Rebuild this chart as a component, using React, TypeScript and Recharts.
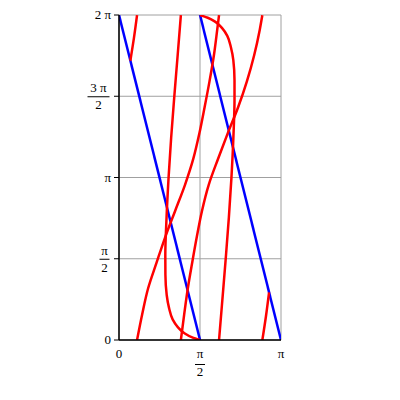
import { CartesianGrid, Line, LineChart, XAxis, YAxis } from 'recharts';

const PI = Math.PI;

// axis ticks (radians) and how they are printed
const X_TICKS = [0, PI / 2, PI];
const X_LABELS = ['0', 'π/2', 'π'];
const Y_TICKS = [0, PI / 2, PI, (3 * PI) / 2, 2 * PI];
const Y_LABELS = ['0', 'π/2', 'π', '3 π/2', '2 π'];

// blue: two straight branches, [x, y]
const BLUE_A = [[0, 6.283], [1.571, 0]];
const BLUE_B = [[1.571, 6.283], [3.141, 0]];

// red branches, each ordered by y
const RED_A = [[0.22, 5.4], [0.29, 5.84], [0.35, 6.28]];
const RED_B = [
  [0.35, 0], [0.45, 0.5], [0.565, 1.0], [0.73, 1.5], [0.9, 2.0], [1.09, 2.5],
  [1.28, 3.0], [1.44, 3.5], [1.56, 4.0], [1.66, 4.5], [1.755, 5.0], [1.84, 5.5],
  [1.905, 6.0], [1.94, 6.28],
];
const RED_C = [
  [1.57, 0], [1.42, 0.05], [1.27, 0.13], [1.14, 0.25], [1.04, 0.4], [0.97, 0.62],
  [0.925, 0.87], [0.9, 1.26], [0.898, 1.64], [0.92, 2.32], [0.962, 3.15], [1.012, 3.92],
  [1.075, 4.74], [1.138, 5.51], [1.2, 6.28],
];
const RED_D = [
  [1.94, 0], [2.004, 0.77], [2.067, 1.54], [2.13, 2.36], [2.18, 3.13], [2.22, 3.96],
  [2.24, 4.64], [2.24, 5.02], [2.217, 5.41], [2.17, 5.66], [2.1, 5.88], [2.0, 6.03],
  [1.87, 6.15], [1.72, 6.23], [1.57, 6.28],
];
const RED_E = [
  [1.2, 0], [1.265, 0.5], [1.335, 1.0], [1.42, 1.5], [1.51, 2.0], [1.61, 2.5],
  [1.74, 3.0], [1.92, 3.5], [2.11, 4.0], [2.31, 4.5], [2.48, 5.0], [2.62, 5.5],
  [2.73, 6.0], [2.78, 6.28],
];
const RED_F = [[2.78, 0], [2.85, 0.46], [2.91, 0.92]];

const toPoints = (pts: number[][]) => pts.map(([x, y]) => ({ x, y }));

const BLUE = [BLUE_A, BLUE_B].map(toPoints);
const RED = [RED_A, RED_B, RED_C, RED_D, RED_E, RED_F].map(toPoints);

const FONT = "'Liberation Serif', 'Times New Roman', serif";
const textStyle = { fontFamily: FONT, fontSize: 13, fill: '#000' };

function labelFor(value: number, ticks: number[], labels: string[]) {
  const i = ticks.findIndex((t) => Math.abs(t - value) < 1e-6);
  return i >= 0 ? labels[i] : String(value);
}

function YTick({ x, y, payload }: any) {
  const label = labelFor(payload.value, Y_TICKS, Y_LABELS);
  if (label.includes('/')) {
    const [num, den] = label.split('/');
    const w = 4 + num.length * 6;
    const cx = x - 2.5 - w / 2;
    return (
      <g>
        <text x={cx} y={y - 4} textAnchor="middle" style={textStyle}>{num}</text>
        <line x1={cx - w / 2} x2={cx + w / 2} y1={y + 0.5} y2={y + 0.5} stroke="#000" />
        <text x={cx} y={y + 13} textAnchor="middle" style={textStyle}>{den}</text>
      </g>
    );
  }
  return (
    <text x={x - 1} y={y + 4} textAnchor="end" style={textStyle}>
      {label}
    </text>
  );
}

function XTick({ x, y, payload }: any) {
  const label = labelFor(payload.value, X_TICKS, X_LABELS);
  if (label.includes('/')) {
    const [num, den] = label.split('/');
    const w = 4 + num.length * 6;
    return (
      <g>
        <text x={x} y={y + 10} textAnchor="middle" style={textStyle}>{num}</text>
        <line x1={x - w / 2} x2={x + w / 2} y1={y + 16.5} y2={y + 16.5} stroke="#000" />
        <text x={x} y={y + 28} textAnchor="middle" style={textStyle}>{den}</text>
      </g>
    );
  }
  return (
    <text x={x} y={y + 9.5} textAnchor="middle" style={textStyle}>
      {label}
    </text>
  );
}

export default function App() {
  return (
    <div style={{ position: 'absolute', left: 0, top: 0, width: 400, height: 400, background: '#fff' }}>
      <LineChart width={400} height={400} margin={{ top: 15, right: 119, bottom: 30, left: 89 }}>
        <CartesianGrid stroke="#a0a0a0" strokeWidth={1} />
        <XAxis
          dataKey="x"
          type="number"
          domain={[0, PI]}
          ticks={X_TICKS}
          interval={0}
          allowDataOverflow
          height={30}
          axisLine={{ stroke: '#000', strokeWidth: 1.5 }}
          tickLine={false}
          tick={<XTick />}
        />
        <YAxis
          dataKey="y"
          type="number"
          domain={[0, 2 * PI]}
          ticks={Y_TICKS}
          interval={0}
          allowDataOverflow
          width={30}
          axisLine={{ stroke: '#000', strokeWidth: 1.5 }}
          tickLine={{ stroke: '#000' }}
          tickSize={5}
          tick={<YTick />}
        />
        {BLUE.map((d, i) => (
          <Line
            key={`blue-${i}`}
            data={d}
            dataKey="y"
            type="linear"
            stroke="#0000ff"
            strokeWidth={2.5}
            dot={false}
            isAnimationActive={false}
          />
        ))}
        {RED.map((d, i) => (
          <Line
            key={`red-${i}`}
            data={d}
            dataKey="y"
            type="monotoneY"
            stroke="#ff0000"
            strokeWidth={2.5}
            dot={false}
            isAnimationActive={false}
          />
        ))}
      </LineChart>
    </div>
  );
}
